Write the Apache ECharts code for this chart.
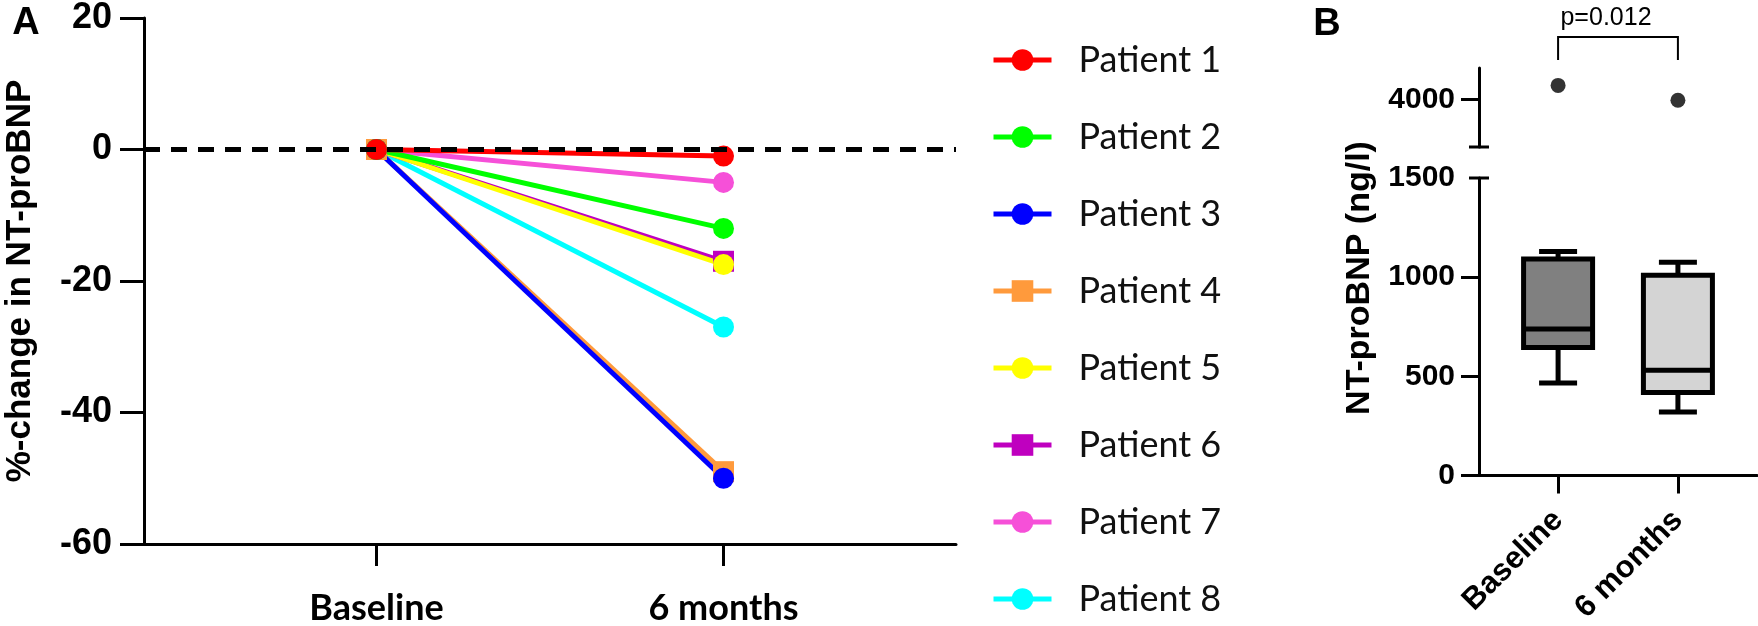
<!DOCTYPE html>
<html><head><meta charset="utf-8">
<script src="https://cdn.jsdelivr.net/npm/echarts@6/dist/echarts.min.js"></script>
<style>html,body{margin:0;padding:0;background:#fff}#c{width:1758px;height:626px}</style>
</head><body><div id="c"></div>
<script>
// ---------- Panel A data ----------
const timepoints = ['Baseline', '6 months'];
const patients = ['Patient 1','Patient 2','Patient 3','Patient 4','Patient 5','Patient 6','Patient 7','Patient 8'];
const baselineChange = [0, 0, 0, 0, 0, 0, 0, 0];
const sixMonthChange = [-1, -12, -50, -49, -17.5, -17, -5, -27];
const patientColors = ['#ff0000','#00ff00','#0000ff','#ff9a3c','#ffff00','#bf00bf','#f650d8','#00ffff'];
const patientSymbols = ['circle','circle','circle','rect','circle','rect','circle','circle'];
const yTicksA = [-60, -40, -20, 0, 20];

// ---------- Panel B data ----------
const boxGroups = ['Baseline', '6 months'];
// [min, Q1, median, Q3, max]
const boxBaseline = [466, 645, 738, 1092, 1130];
const boxSixMonths = [320, 418, 530, 1010, 1075];
const outliers = [4450, 3980];
const boxFills = ['#808080', '#d4d4d4'];
const pLabel = 'p=0.012';
const yTicksBLow = [0, 500, 1000, 1500];
const yTicksBHigh = [4000];

const ARIAL = '"Liberation Sans", Arial, sans-serif';
const CALI = 'Lato, "Open Sans", sans-serif';

const chart = echarts.init(document.getElementById('c'), null, {renderer: 'canvas'});

const lineSeries = [];
for (let i = patients.length - 1; i >= 0; i--) {
  lineSeries.push({
    name: patients[i], type: 'line', xAxisIndex: 0, yAxisIndex: 0,
    data: [[0, baselineChange[i]], [1, sixMonthChange[i]]],
    symbol: patientSymbols[i], symbolSize: 21,
    lineStyle: {color: patientColors[i], width: 5},
    itemStyle: {color: patientColors[i]},
    emphasis: {disabled: true}, animation: false, z: 3
  });
}
// zero reference line
lineSeries[0].markLine = {
  silent: true, symbol: 'none', label: {show: false}, animation: false,
  lineStyle: {color: '#000', width: 5, type: [16, 11]},
  data: [{yAxis: 0}]
};

const boxData = [[0].concat(boxBaseline), [1].concat(boxSixMonths)];

const axisLineStyle = {color: '#000', width: 3};
const plain = v => String(v);

const option = {
  animation: false,
  backgroundColor: '#fff',
  grid: [
    {left: 144, top: 15, width: 812, height: 548},
    {left: 1479, top: 68, width: 278, height: 79},
    {left: 1479, top: 178, width: 278, height: 306}
  ],
  xAxis: [
    {gridIndex: 0, type: 'value', min: -0.67, max: 1.67,
     axisLine: {show: true, onZero: false, lineStyle: axisLineStyle},
     axisTick: {show: true, customValues: [0, 1], length: 22, lineStyle: axisLineStyle},
     axisLabel: {show: true, customValues: [0, 1], formatter: v => timepoints[Math.round(v)],
       fontFamily: CALI, fontWeight: 'bold', fontSize: 36, color: '#000', margin: 46},
     splitLine: {show: false}},
    {gridIndex: 1, type: 'value', min: -0.66, max: 1.66, show: false},
    {gridIndex: 2, type: 'value', min: -0.66, max: 1.66,
     axisLine: {show: true, onZero: false, lineStyle: axisLineStyle},
     axisTick: {show: true, customValues: [0, 1], length: 18, lineStyle: axisLineStyle},
     axisLabel: {show: true, customValues: [0, 1], formatter: v => boxGroups[Math.round(v)], rotate: 45,
       fontFamily: ARIAL, fontWeight: 'bold', fontSize: 31, color: '#000', margin: 40},
     splitLine: {show: false}}
  ],
  yAxis: [
    {gridIndex: 0, type: 'value', min: -60, max: 20, interval: 20,
     name: '%-change in NT-proBNP', nameLocation: 'middle', nameGap: 106,
     nameTextStyle: {fontFamily: ARIAL, fontWeight: 'bold', fontSize: 35, color: '#000'},
     axisLine: {show: true, onZero: false, lineStyle: axisLineStyle},
     axisTick: {show: true, length: 24, lineStyle: axisLineStyle},
     axisLabel: {fontFamily: ARIAL, fontWeight: 'bold', fontSize: 36, color: '#000', margin: 32, formatter: plain},
     splitLine: {show: false}},
    {gridIndex: 1, type: 'value', min: 2500, max: 5000,
     axisLine: {show: true, onZero: false, lineStyle: axisLineStyle},
     axisTick: {show: true, customValues: yTicksBHigh, length: 18, lineStyle: axisLineStyle},
     axisLabel: {customValues: yTicksBHigh, fontFamily: ARIAL, fontWeight: 'bold', fontSize: 30, color: '#000', margin: 24, formatter: plain},
     splitLine: {show: false}},
    {gridIndex: 2, type: 'value', min: 0, max: 1500, interval: 500,
     axisLine: {show: true, onZero: false, lineStyle: axisLineStyle},
     axisTick: {show: true, customValues: [0, 500, 1000], length: 18, lineStyle: axisLineStyle},
     axisLabel: {customValues: yTicksBLow, fontFamily: ARIAL, fontWeight: 'bold', fontSize: 30, color: '#000', margin: 24, formatter: plain},
     splitLine: {show: false}}
  ],
  legend: {
    data: patients, orient: 'vertical', left: 986, top: 37,
    itemWidth: 58, itemHeight: 27, itemGap: 41,
    selectedMode: false,
    lineStyle: {width: 5},
    textStyle: {fontFamily: CALI, fontSize: 36, color: '#111', lineHeight: 36, padding: [0, 0, 0, 22]}
  },
  series: lineSeries.concat([
    {type: 'custom', xAxisIndex: 2, yAxisIndex: 2, data: boxData, clip: false, z: 3,
     renderItem: function (params, api) {
       const x = api.value(0);
       const v = [1, 2, 3, 4, 5].map(k => api.value(k));
       const p = v.map(val => api.coord([x, val]));
       const cx = p[0][0];
       const hw = 34.5, cw = 19;
       const st = {stroke: '#000', lineWidth: 5, fill: null};
       return {type: 'group', children: [
         {type: 'line', shape: {x1: cx, y1: p[0][1], x2: cx, y2: p[1][1]}, style: st},
         {type: 'line', shape: {x1: cx, y1: p[3][1], x2: cx, y2: p[4][1]}, style: st},
         {type: 'line', shape: {x1: cx - cw, y1: p[0][1], x2: cx + cw, y2: p[0][1]}, style: st},
         {type: 'line', shape: {x1: cx - cw, y1: p[4][1], x2: cx + cw, y2: p[4][1]}, style: st},
         {type: 'rect', shape: {x: cx - hw, y: p[3][1], width: 2 * hw, height: p[1][1] - p[3][1]},
          style: {fill: boxFills[params.dataIndex], stroke: '#000', lineWidth: 5}},
         {type: 'line', shape: {x1: cx - hw, y1: p[2][1], x2: cx + hw, y2: p[2][1]}, style: st}
       ]};
     }},
    {type: 'scatter', xAxisIndex: 1, yAxisIndex: 1, data: [[0, outliers[0]], [1, outliers[1]]],
     symbol: 'circle', symbolSize: 15, itemStyle: {color: '#000'}, clip: false}
  ])
};
chart.setOption(option);

// decorations placed through the axes' own scales
const xB0 = chart.convertToPixel({xAxisIndex: 1}, 0);
const xB1 = chart.convertToPixel({xAxisIndex: 1}, 1);
const axisXB = chart.convertToPixel({xAxisIndex: 1}, -0.66);
const yHighBottom = chart.convertToPixel({yAxisIndex: 1}, 2500);
const yLowTop = chart.convertToPixel({yAxisIndex: 2}, 1500);
const yHighTop = chart.convertToPixel({yAxisIndex: 1}, 5000);
const brTop = yHighTop - 31, brLeg = yHighTop - 8;
const capStyle = {stroke: '#000', lineWidth: 3};

chart.setOption({
  graphic: [
    {type: 'text', x: 26, y: 24, style: {text: 'A', font: 'bold 38px ' + ARIAL, fill: '#000', align: 'center', verticalAlign: 'middle'}},
    {type: 'text', x: 1327, y: 25, style: {text: 'B', font: 'bold 38px ' + ARIAL, fill: '#000', align: 'center', verticalAlign: 'middle'}},
    {type: 'text', x: 1360, y: 278, rotation: Math.PI / 2,
     style: {text: 'NT-proBNP (ng/l)', font: 'bold 34px ' + ARIAL, fill: '#000', align: 'center', verticalAlign: 'middle'}},
    {type: 'line', shape: {x1: axisXB - 10, y1: yHighBottom, x2: axisXB + 10, y2: yHighBottom}, style: capStyle},
    {type: 'line', shape: {x1: axisXB - 10, y1: yLowTop, x2: axisXB + 10, y2: yLowTop}, style: capStyle},
    {type: 'polyline', shape: {points: [[xB0, brLeg], [xB0, brTop], [xB1, brTop], [xB1, brLeg]]},
     style: {stroke: '#000', lineWidth: 2, fill: null}},
    {type: 'text', x: (xB0 + xB1) / 2 - 12, y: brTop - 6,
     style: {text: pLabel, font: '25px ' + ARIAL, fill: '#000', align: 'center', verticalAlign: 'bottom'}}
  ]
});
</script>
</body></html>
